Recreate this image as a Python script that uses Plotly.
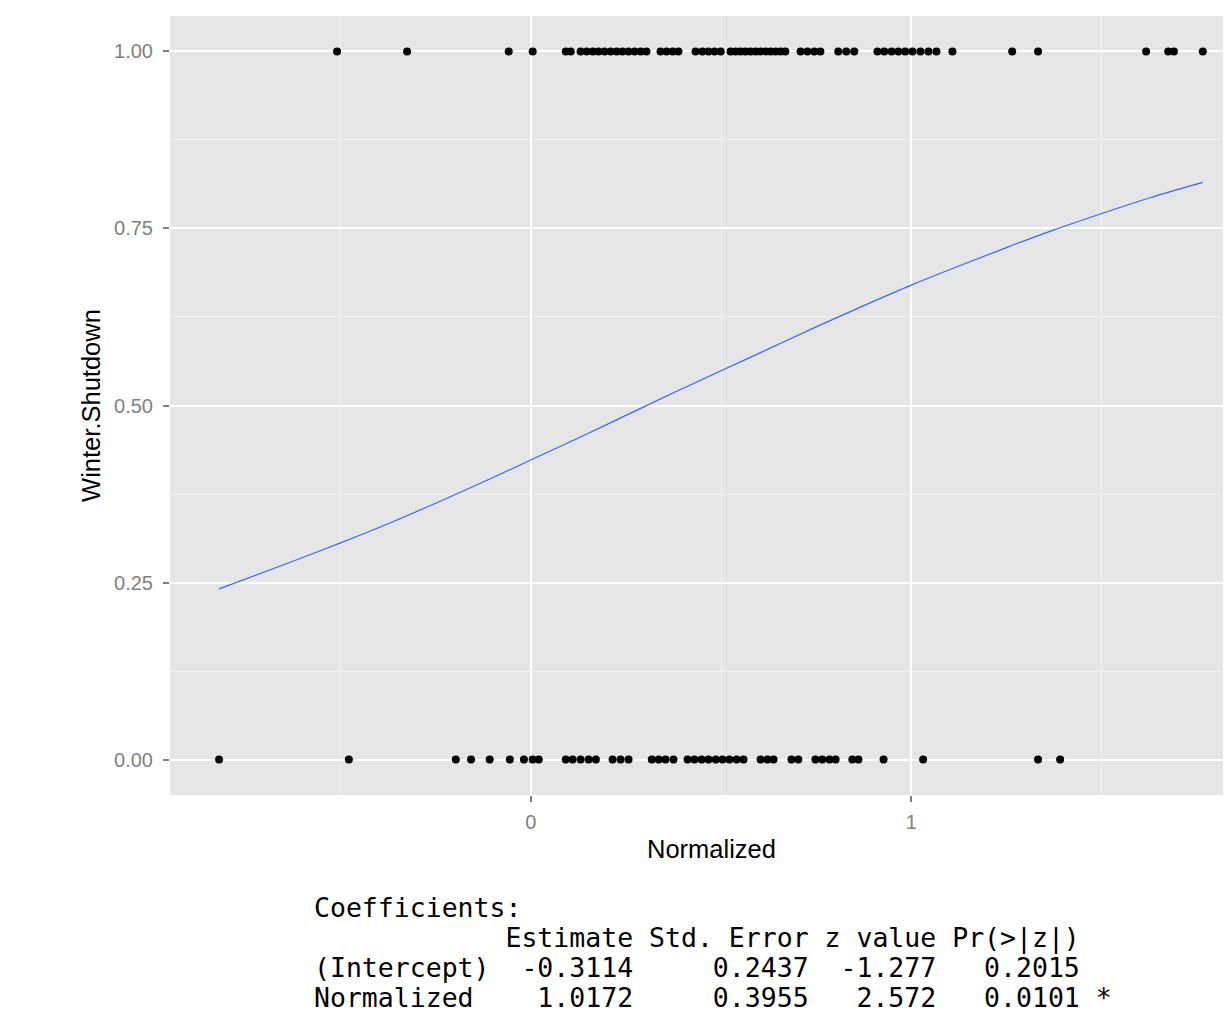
import plotly.graph_objects as go

# ---- data ----
shutdown_x = [-0.509, -0.325, -0.058, 0.005, 0.092, 0.105, 0.131, 0.147, 0.163, 0.178,
              0.194, 0.210, 0.226, 0.241, 0.257, 0.273, 0.289, 0.304, 0.341, 0.357,
              0.373, 0.388, 0.433, 0.451, 0.467, 0.483, 0.499, 0.525, 0.538, 0.551,
              0.564, 0.577, 0.591, 0.604, 0.617, 0.630, 0.643, 0.656, 0.669, 0.709,
              0.727, 0.745, 0.761, 0.808, 0.829, 0.850, 0.911, 0.929, 0.948, 0.966,
              0.984, 1.003, 1.024, 1.045, 1.066, 1.108, 1.265, 1.333, 1.617, 1.675,
              1.690, 1.766]
open_x = [-0.819, -0.478, -0.197, -0.157, -0.108, -0.055, -0.018, 0.005, 0.021, 0.092,
          0.110, 0.131, 0.152, 0.171, 0.215, 0.236, 0.257, 0.318, 0.336, 0.354,
          0.375, 0.412, 0.430, 0.449, 0.467, 0.486, 0.504, 0.522, 0.541, 0.559,
          0.604, 0.622, 0.638, 0.685, 0.703, 0.748, 0.766, 0.785, 0.801, 0.845,
          0.861, 0.927, 1.031, 1.333, 1.391]

curve_x = [-0.819, -0.625, -0.5, -0.375, -0.25, -0.125, 0.0, 0.125, 0.25, 0.375, 0.5,
           0.625, 0.75, 0.875, 1.0, 1.125, 1.25, 1.375, 1.5, 1.625, 1.766]
curve_y = [0.241, 0.280, 0.306, 0.333, 0.362, 0.392, 0.423, 0.454, 0.486, 0.518, 0.549,
           0.580, 0.611, 0.641, 0.670, 0.697, 0.723, 0.748, 0.771, 0.793, 0.815]

coef_names = ["(Intercept)", "Normalized"]
coef_estimate = ["-0.3114", "1.0172"]
coef_stderr = ["0.2437", "0.3955"]
coef_z = ["-1.277", "2.572"]
coef_p = ["0.2015", "0.0101"]
coef_signif = ["", " *"]

x_tickvals = [0, 1]
y_tickvals = [0, 0.25, 0.5, 0.75, 1.0]

fig = go.Figure()
fig.add_trace(go.Scatter(x=shutdown_x, y=[1] * len(shutdown_x), mode="markers",
                         marker=dict(color="black", size=8), showlegend=False))
fig.add_trace(go.Scatter(x=open_x, y=[0] * len(open_x), mode="markers",
                         marker=dict(color="black", size=8), showlegend=False))
fig.add_trace(go.Scatter(x=curve_x, y=curve_y, mode="lines",
                         line=dict(color="#3366FF", width=1.2, shape="spline"),
                         showlegend=False))

axis_font = dict(family="Liberation Sans, Arial, sans-serif", size=20, color="#7F7F7F")
title_font = dict(family="Liberation Sans, Arial, sans-serif", size=25.5, color="black")

fig.update_xaxes(range=[-0.948, 1.84], tickvals=x_tickvals, ticktext=["0", "1"],
                 showgrid=True, gridcolor="white", gridwidth=2, zeroline=False,
                 ticks="outside", ticklen=6, tickwidth=1.5, tickcolor="#7F7F7F",
                 tickfont=axis_font, ticklabelstandoff=3,
                 minor=dict(tickvals=[-0.5, 0.5, 1.5], showgrid=True,
                            gridcolor="#F2F2F2", gridwidth=1.2, ticks=""),
                 showline=False)
fig.update_yaxes(range=[-0.05, 1.05], tickvals=y_tickvals, tickformat=".2f",
                 showgrid=True, gridcolor="white", gridwidth=2, zeroline=False,
                 ticks="outside", ticklen=6, tickwidth=1.5, tickcolor="#7F7F7F",
                 tickfont=axis_font, ticklabelstandoff=6,
                 minor=dict(tickvals=[0.125, 0.375, 0.625, 0.875], showgrid=True,
                            gridcolor="#F2F2F2", gridwidth=1.2, ticks=""),
                 title=dict(text="Winter.Shutdown", font=title_font, standoff=6),
                 showline=False)

# page is offset by the 8px body margin
off = 8
plot_left, plot_right = 170 - off, 1231 - off
plot_top, plot_bottom = 16 - off, 795 - off


def px_to_paper(px, py):
    return ((px - off - plot_left) / (plot_right - plot_left),
            (plot_bottom - (py - off)) / (plot_bottom - plot_top))


# x-axis title (centred on the original, wider panel)
tx, ty = px_to_paper(711, 849)
fig.add_annotation(text="Normalized", xref="paper", yref="paper", x=tx, y=ty,
                   xanchor="center", yanchor="middle", showarrow=False, font=title_font)

# coefficient table below the chart
lines = ["Coefficients:",
         f"{'':<11} {'Estimate':>8} {'Std. Error':>10} {'z value':>7} {'Pr(>|z|)':>8}"]
for n, e, s, z, p, g in zip(coef_names, coef_estimate, coef_stderr, coef_z, coef_p, coef_signif):
    lines.append(f"{n:<11} {e:>8} {s:>10} {z:>7} {p:>8}{g}")

line_px = [907, 938, 968, 997]
for txt, py in zip(lines, line_px):
    ax, ay = px_to_paper(312, py)
    fig.add_annotation(text=txt.replace(" ", "\u00a0"), xref="paper", yref="paper",
                       x=ax, y=ay, xanchor="left", yanchor="middle", showarrow=False,
                       font=dict(family="DejaVu Sans Mono, monospace", size=26.5, color="black"))

fig.update_layout(width=1231 - off, height=1020 - off, plot_bgcolor="#E5E5E5",
                  paper_bgcolor="white",
                  margin=dict(l=plot_left, r=0, t=plot_top, b=1020 - off - plot_bottom,
                              autoexpand=False))

fig.write_html("out.html")
